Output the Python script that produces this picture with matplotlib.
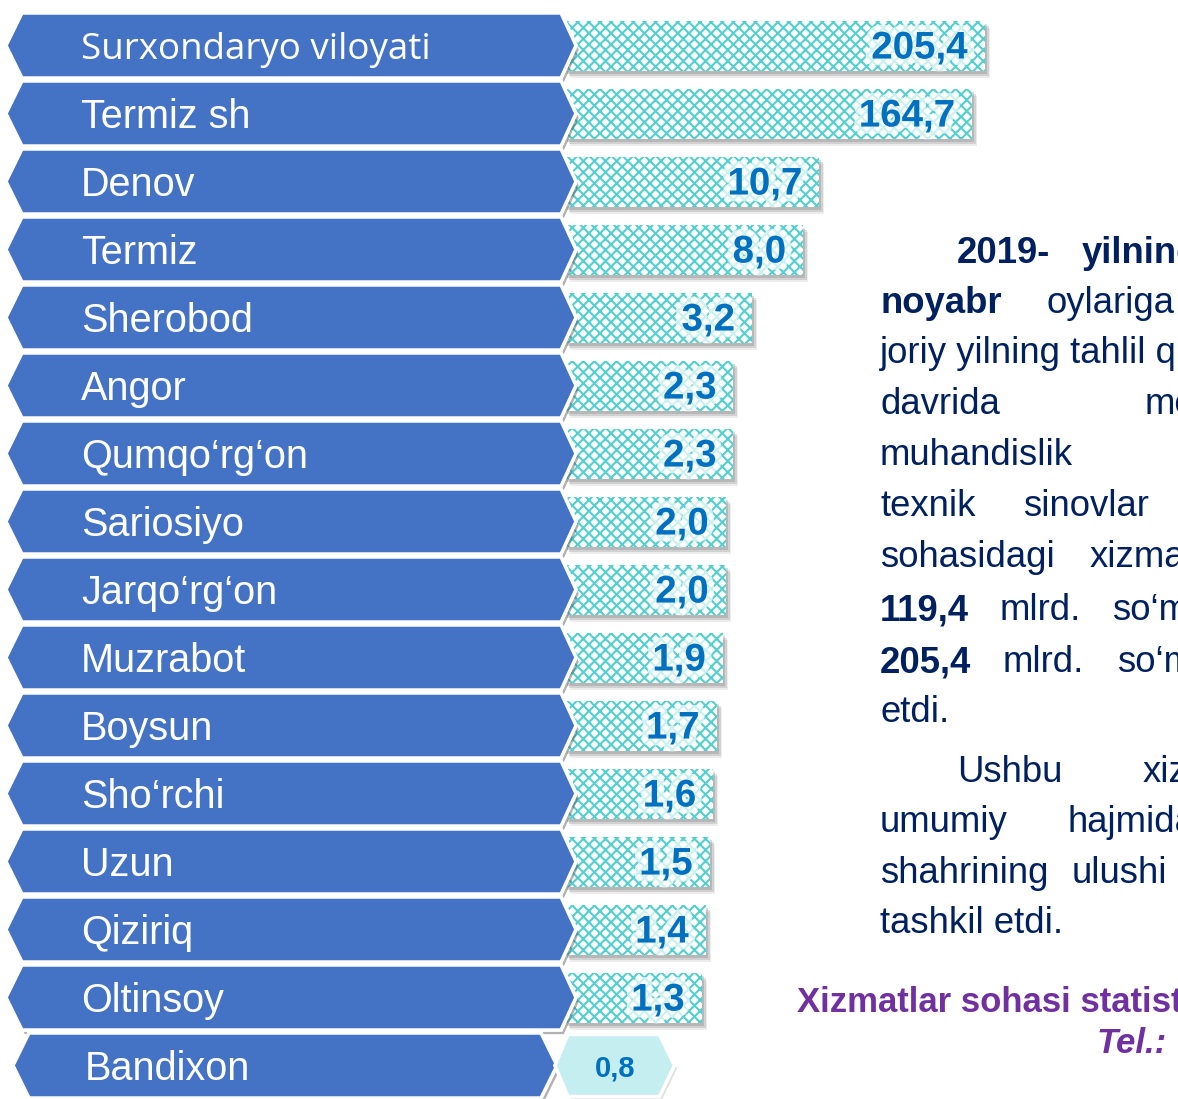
import numpy as np
import matplotlib
matplotlib.use("Agg")
import matplotlib.pyplot as plt
from matplotlib.patches import Polygon
from matplotlib import patheffects as pe
from matplotlib.transforms import ScaledTranslation, blended_transform_factory

# ---- data -------------------------------------------------------------
districts = ["Surxondaryo viloyati", "Termiz sh", "Denov", "Termiz", "Sherobod",
             "Angor", "Qumqo\u2018rg\u2018on", "Sariosiyo", "Jarqo\u2018rg\u2018on",
             "Muzrabot", "Boysun", "Sho\u2018rchi", "Uzun", "Qiziriq", "Oltinsoy",
             "Bandixon"]
values = [205.4, 164.7, 10.7, 8.0, 3.2, 2.3, 2.3, 2.0, 2.0, 1.9, 1.7, 1.6,
          1.5, 1.4, 1.3, 0.8]
value_labels = [f"{v:.1f}".replace(".", ",") for v in values]

# ---- style ------------------------------------------------------------
W, H = 1178, 1099
BOX_BLUE = "#4472C4"
TEAL = "#52CFCF"
VALUE_BLUE = "#0070C0"
NAVY = "#002060"
PURPLE = "#7030A0"
plt.rcParams["font.family"] = ["Liberation Sans", "DejaVu Sans"]
plt.rcParams["hatch.linewidth"] = 1.5

fig = plt.figure(figsize=(W / 100, H / 100), dpi=100)
ax = fig.add_axes([0, 0, 1, 1])
ax.set_xscale("log")
# log axis: bars start at BASE, ~55.9 px per natural-log unit
BASE = 0.113
K = 55.9
x_start_px = 565
ln_min = np.log(BASE) - x_start_px / K
ax.set_xlim(np.exp(ln_min), np.exp(ln_min + W / K))
row_px, top_px = 68.0, 45.5
ax.set_ylim((H - top_px) / row_px, -top_px / row_px)
ax.axis("off")

n = len(values)
idx = np.arange(n)
bar_idx = idx[:-1]
bar_vals = np.array(values[:-1])
bar_h = 50 / row_px

# soft drop shadow under the bars
for (dx, dy, a) in [(2, -3, 0.25), (4, -5, 0.22), (5, -7, 0.12)]:
    sh = ax.barh(bar_idx, bar_vals - BASE, left=BASE, height=bar_h,
                 color="#6f6f6f", alpha=a, linewidth=0, zorder=1)
    off = ax.transData + ScaledTranslation(dx / 100, dy / 100, fig.dpi_scale_trans)
    for p in sh:
        p.set_transform(off)

ax.barh(bar_idx, bar_vals - BASE, left=BASE, height=bar_h, facecolor="white",
        edgecolor=TEAL, linewidth=0, hatch="xxx", zorder=2)

glow = [pe.withStroke(linewidth=10, foreground="white", alpha=0.7)]
for i, (v, lab) in enumerate(zip(bar_vals, value_labels[:-1])):
    ax.annotate(lab, xy=(v, i), xytext=(-17, -3), textcoords="offset pixels",
                ha="right", va="center", fontsize=27.7, fontweight="bold",
                color=VALUE_BLUE, path_effects=glow, zorder=6)

# arrow-shaped name boxes (x in figure pixels, y in row units)
bt = blended_transform_factory(fig.transFigure, ax.transData)
half = 32.5 / row_px
shadow = [pe.withSimplePatchShadow(offset=(2, -3), shadow_rgbFace="#555555", alpha=0.45),
          pe.Normal()]
text_dy = 4 / row_px
for i, name in enumerate(districts):
    if i == n - 1:
        lt, lc, rc, rt = 13, 29, 541, 557
        tx = 85
    else:
        lt, lc, rc, rt = 6, 22, 561, 576
        tx = 81
    pts = [(lt, i), (lc, i - half), (rc, i - half), (rt, i), (rc, i + half), (lc, i + half)]
    pts = [(x / W, y) for x, y in pts]
    ax.add_patch(Polygon(pts, closed=True, facecolor=BOX_BLUE, edgecolor="white",
                         linewidth=2.5, transform=bt, zorder=3, path_effects=shadow))
    if i == 0:
        ax.text(tx / W, i + text_dy, name, transform=bt, ha="left", va="center",
                color="white", fontsize=26.5, family=["Open Sans", "DejaVu Sans"], zorder=4)
    else:
        ax.text(tx / W, i + text_dy, name, transform=bt, ha="left", va="center",
                color="white", fontsize=28.5, zorder=4)

# hexagonal badge for the smallest value
v_last = values[-1]
yb = n - 1
hb = 31 / row_px
left_tip = BASE * np.exp(-10 / K)
left_c = BASE * np.exp(3 / K)
right_c = v_last * np.exp(-15 / K)
hexagon = [(left_tip, yb), (left_c, yb - hb), (right_c, yb - hb), (v_last, yb),
           (right_c, yb + hb), (left_c, yb + hb)]
ax.add_patch(Polygon(hexagon, closed=True, facecolor="#C4EEF0", edgecolor="white",
                     linewidth=2.5, zorder=5,
                     path_effects=[pe.withSimplePatchShadow(offset=(2, -2), shadow_rgbFace="#999999", alpha=0.3),
                                   pe.Normal()]))
ax.annotate(value_labels[-1], xy=(np.sqrt(left_tip * v_last), yb), xytext=(0, -3),
            textcoords="offset pixels", ha="center", va="center",
            fontsize=21, fontweight="bold", color=VALUE_BLUE, zorder=6)

# ---- commentary text on the right --------------------------------------
body = [
    (263, [("2019-", 957, True), ("yilning", 1082, True)]),
    (313, [("noyabr", 880, True), ("oylariga", 1047, False)]),
    (363, [("joriy yilning tahlil qilinayotgan", 880, False)]),
    (414, [("davrida", 880, False), ("me\u2019morchilik,", 1145, False)]),
    (465, [("muhandislik", 880, False)]),
    (516, [("texnik", 880, False), ("sinovlar", 1023, False)]),
    (567, [("sohasidagi", 880, False), ("xizmatlar", 1090, False)]),
    (620, [("119,4", 880, True), ("mlrd.", 1000, False), ("so\u2018m", 1112, False)]),
    (672, [("205,4", 880, True), ("mlrd.", 1003, False), ("so\u2018m", 1117, False)]),
    (722, [("etdi.", 880, False)]),
    (782, [("Ushbu", 957, False), ("xizmatlar", 1143, False)]),
    (832, [("umumiy", 880, False), ("hajmida", 1067, False)]),
    (883, [("shahrining", 880, False), ("ulushi", 1072, False)]),
    (933, [("tashkil etdi.", 880, False)]),
]
for base_y, words in body:
    for word, x, bold in words:
        fig.text(x / W, 1 - base_y / H, word, ha="left", va="baseline",
                 fontsize=26.3, color=NAVY, fontweight="bold" if bold else "normal")

fig.text(797 / W, 1 - 1012 / H, "Xizmatlar sohasi statistikasi", ha="left",
         va="baseline", fontsize=25, color=PURPLE, fontweight="bold")
fig.text(1097 / W, 1 - 1053 / H, "Tel.:", ha="left", va="baseline", fontsize=25,
         color=PURPLE, fontweight="bold", fontstyle="italic")

fig.savefig("out.png", dpi=100)
